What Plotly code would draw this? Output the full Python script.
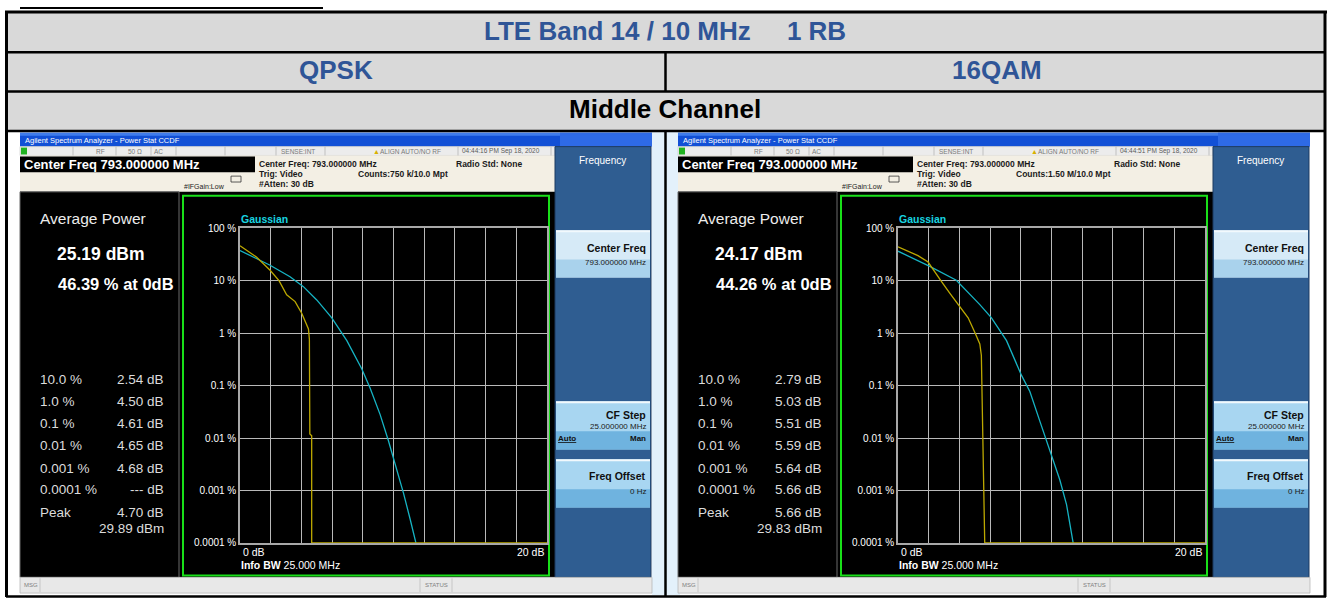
import plotly.graph_objects as go

W, H = 1330, 604
FONT = "Liberation Sans"

# ---------------- data ----------------
table_title = "LTE Band 14 / 10 MHz\u00a0\u00a0\u00a0\u00a0 1 RB"
modulations = ["QPSK", "16QAM"]
channel_label = "Middle Channel"

y_tick_vals = [100, 10, 1, 0.1, 0.01, 0.001, 0.0001]
y_tick_text = ["100 %", "10 %", "1 %", "0.1 %", "0.01 %", "0.001 %", "0.0001 %"]

# QPSK measured CCDF (dB above average, % probability)
qpsk_meas_db = [0, 1.09, 1.96, 2.54, 3.04, 3.59, 4.02, 4.46, 4.52, 4.55, 4.67, 4.67, 20]
qpsk_meas_pct = [46.39, 28, 15.8, 10, 5.4, 4.0, 2.4, 1.2, 0.77, 0.012, 0.011, 0.0001, 0.0001]
# QPSK Gaussian reference
qpsk_gauss_db = [0, 1.96, 3.26, 4.13, 5.0, 5.98, 6.96, 7.93, 8.48, 9.13, 9.67, 10.11, 10.65, 11.09, 11.46]
qpsk_gauss_pct = [37.6, 19.7, 11.9, 7.7, 4.3, 1.96, 0.72, 0.21, 0.089, 0.028, 0.0089, 0.0032, 0.00089, 0.00028, 0.0001]

# 16QAM measured CCDF
qam_meas_db = [0, 1.30, 1.96, 2.5, 2.79, 3.37, 3.91, 4.57, 5.03, 5.33, 5.43, 5.50, 5.52, 5.59, 5.62, 5.65, 20]
qam_meas_pct = [44.26, 30, 22.7, 12.8, 10, 5.8, 3.5, 1.96, 1.0, 0.62, 0.38, 0.032, 0.03, 0.0012, 0.0011, 0.0001, 0.0001]
# 16QAM Gaussian reference
qam_gauss_db = [0, 2.07, 3.8, 5.33, 6.09, 7.07, 8.04, 8.59, 9.24, 9.89, 10.54, 10.98, 11.41]
qam_gauss_pct = [36.5, 18.8, 10.2, 3.5, 1.96, 0.72, 0.158, 0.077, 0.021, 0.0058, 0.0016, 0.00054, 0.0001]

stat_labels = ["10.0 %", "1.0 %", "0.1 %", "0.01 %", "0.001 %", "0.0001 %", "Peak"]
qpsk_stat_values = ["2.54 dB", "4.50 dB", "4.61 dB", "4.65 dB", "4.68 dB", "--- dB", "4.70 dB"]
qam_stat_values = ["2.79 dB", "5.03 dB", "5.51 dB", "5.59 dB", "5.64 dB", "5.66 dB", "5.66 dB"]
qpsk_avg = ["25.19 dBm", "46.39 % at 0dB"]
qam_avg = ["24.17 dBm", "44.26 % at 0dB"]
qpsk_peak_dbm = "29.89 dBm"
qam_peak_dbm = "29.83 dBm"
qpsk_time = "04:44:16 PM Sep 18, 2020"
qam_time = "04:44:51 PM Sep 18, 2020"
qpsk_counts = "Counts:750 k/10.0 Mpt"
qam_counts = "Counts:1.50 M/10.0 Mpt"

# ---------------- helpers ----------------
shapes = []
annots = []


def X(px):
    return px / W


def Y(py):
    return 1 - py / H


def rect(x0, y0, x1, y1, fill, line=None, lw=0):
    shapes.append(dict(type="rect", xref="paper", yref="paper", x0=X(x0), x1=X(x1), y0=Y(y1), y1=Y(y0),
                       fillcolor=fill, line=dict(color=line or fill, width=lw), layer="below"))


def seg(x0, y0, x1, y1, color="black", w=1, layer="above"):
    shapes.append(dict(type="line", xref="paper", yref="paper", x0=X(x0), x1=X(x1), y0=Y(y0), y1=Y(y1),
                       line=dict(color=color, width=w), layer=layer))


def txt(x, y, s, size, color, bold=False, anchor="left", family=FONT):
    if bold:
        s = "<b>" + s + "</b>"
    annots.append(dict(x=X(x), y=Y(y), xref="paper", yref="paper", text=s, showarrow=False,
                       xanchor=anchor, yanchor="middle", font=dict(size=size, color=color, family=family)))


# ---------------- table ----------------
rect(7, 8, 1325, 128, "#d9d9d9")
rect(652, 129, 680, 600, "#e3f1fb")
seg(20, 3, 323, 3, "black", 2)
seg(5, 7, 1327, 7, "black", 3)
seg(6.5, 7, 6.5, 602, "black", 3)
seg(1325, 7, 1325, 602, "black", 3)
for yy in (48, 88, 128):
    seg(6, yy, 1326, yy, "black", 2.5)
seg(6, 601.5, 1326, 601.5, "black", 2.5)
seg(665.5, 48, 665.5, 88, "black", 2.5)
seg(665.5, 128, 665.5, 601, "black", 2.5)

txt(665, 26, table_title, 26, "#2f5597", bold=True, anchor="center")
txt(336, 66, modulations[0], 26, "#2f5597", bold=True, anchor="center")
txt(997, 66, modulations[1], 26, "#2f5597", bold=True, anchor="center")
txt(665, 106, channel_label, 26, "black", bold=True, anchor="center")


# ---------------- analyzer screens ----------------
def screen(dx, time_s, counts_s, avg, stat_vals, peak_dbm):
    def R(x0, y0, x1, y1, fill, line=None, lw=0):
        rect(x0 + dx, y0, x1 + dx, y1, fill, line, lw)

    def T(x, y, s, size, color, bold=False, anchor="left"):
        txt(x + dx, y, s, size, color, bold, anchor)

    def L(x0, y0, x1, y1, color, w=1):
        seg(x0 + dx, y0, x1 + dx, y1, color, w)

    # title bar
    R(20, 130, 652, 144, "#1250d6")
    R(20, 130, 652, 133, "#3f7cec")
    R(560, 130, 652, 144, "#2e6ae6")
    T(23, 137.5, "Agilent Spectrum Analyzer - Power Stat CCDF", 7.5, "white")
    # status row
    R(20, 144, 555, 153, "#ececec", "#b8b8b8", 0.5)
    R(21, 145, 27, 152, "#21b321")
    for sx in (73, 116, 151, 176, 225, 276, 325, 458, 551):
        L(sx, 144, sx, 153, "#b0b0b0", 0.7)
    T(94, 148.5, "RF", 6.5, "#7a7a7a")
    T(126, 148.5, "50 \u03a9", 6.5, "#7a7a7a")
    T(152, 148.5, "AC", 6.5, "#7a7a7a")
    T(279, 148.5, "SENSE:INT", 6.5, "#7a7a7a")
    T(371, 148.5, "\u25b2", 7, "#d8b000")
    T(378, 148.5, "ALIGN AUTO/NO RF", 6.5, "#7a7a7a")
    T(460, 148.5, time_s, 6.5, "#5a5a5a")
    # info area
    R(20, 153, 555, 190, "#f3efe4")
    R(20, 154, 255, 170, "black")
    T(22, 162, "Center Freq 793.000000 MHz", 13, "white", bold=True)
    T(257, 162, "Center Freq: 793.000000 MHz", 8.5, "#1a1a1a", bold=True)
    T(454, 162, "Radio Std: None", 8.5, "#1a1a1a", bold=True)
    T(257, 172, "Trig: Video", 8.5, "#1a1a1a", bold=True)
    T(356, 172, counts_s, 8.5, "#1a1a1a", bold=True)
    T(257, 182, "#Atten: 30 dB", 8.5, "#1a1a1a", bold=True)
    T(182, 185, "#IFGain:Low", 7, "#1a1a1a")
    R(231, 174, 241, 180, "#f3efe4", "#333333", 0.8)
    # main display
    R(20, 190, 555, 582, "black")
    R(20, 190, 179, 582, "black", "#6a6a6a", 1)
    R(183, 194, 549, 580, "black", "#19e019", 2)
    # softkeys
    R(555, 144, 651, 582, "#2f5d91", "#1c3a60", 1)
    T(602, 158, "Frequency", 10, "white", anchor="center")
    keys = [(229, 277, "#d6eaf7", "#a9d2ec"), (403, 452, "#a8d6f1", "#6fb3df"), (462, 511, "#a8d6f1", "#6fb3df")]
    for (k0, k1, c_top, c_bot) in keys:
        R(556, k0, 650, k1, c_top)
        R(556, k0 + (k1 - k0) * 0.62, 650, k1, c_bot)
        R(556, k0, 650, k0 + 2, "#f2f9fd")
    T(648, 247, "Center Freq", 10.5, "#101010", bold=True, anchor="right")
    T(648, 262, "793.000000 MHz", 8, "#202020", anchor="right")
    T(648, 417, "CF Step", 10.5, "#101010", bold=True, anchor="right")
    T(648, 429, "25.000000 MHz", 8, "#202020", anchor="right")
    T(556, 441, "<u>Auto</u>", 8, "#101010", bold=True)
    T(648, 441, "Man", 8, "#101010", bold=True, anchor="right")
    T(648, 479, "Freq Offset", 10.5, "#101010", bold=True, anchor="right")
    T(648, 495, "0 Hz", 8, "#202020", anchor="right")
    # bottom bar
    R(20, 582, 652, 598, "#e8e8e8", "#b0b0b0", 0.7)
    L(40, 583, 40, 597, "#b8b8b8", 0.7)
    L(420, 583, 420, 597, "#b8b8b8", 0.7)
    L(452, 583, 452, 597, "#b8b8b8", 0.7)
    T(22, 590, "MSG", 6, "#808080")
    T(423, 590, "STATUS", 6, "#808080")
    # left panel text
    T(38, 217, "Average Power", 15.5, "#ececec")
    T(55, 253, avg[0], 17.5, "white", bold=True)
    T(56, 284, avg[1], 16.5, "white", bold=True)
    rows_y = [381, 403, 426, 448, 471, 493, 516]
    for lab, val, yy in zip(stat_labels, stat_vals, rows_y):
        T(38, yy, lab, 13.5, "#dcdcdc")
        T(166, yy, val, 13.5, "#dcdcdc", anchor="right")
    T(166, 532, peak_dbm, 13.5, "#dcdcdc", anchor="right")
    # chart labels
    T(239, 218, "Gaussian", 10.5, "#19d4e0", bold=True)
    T(241, 556, "0 dB", 10.5, "white")
    T(546, 556, "20 dB", 10.5, "white", anchor="right")
    T(239, 569, "<b>Info BW</b> 25.000 MHz", 10.5, "white")


screen(0, qpsk_time, qpsk_counts, qpsk_avg, qpsk_stat_values, qpsk_peak_dbm)
screen(658, qam_time, qam_counts, qam_avg, qam_stat_values, qam_peak_dbm)

# ---------------- CCDF traces ----------------
YELLOW = "#bca800"
CYAN = "#16b4c4"
fig = go.Figure()
fig.add_trace(go.Scatter(x=qpsk_gauss_db, y=qpsk_gauss_pct, mode="lines", line=dict(color=CYAN, width=1.3),
                         xaxis="x", yaxis="y", cliponaxis=False, showlegend=False))
fig.add_trace(go.Scatter(x=qpsk_meas_db, y=qpsk_meas_pct, mode="lines", line=dict(color=YELLOW, width=1.3),
                         xaxis="x", yaxis="y", cliponaxis=False, showlegend=False))
fig.add_trace(go.Scatter(x=qam_gauss_db, y=qam_gauss_pct, mode="lines", line=dict(color=CYAN, width=1.3),
                         xaxis="x2", yaxis="y2", cliponaxis=False, showlegend=False))
fig.add_trace(go.Scatter(x=qam_meas_db, y=qam_meas_pct, mode="lines", line=dict(color=YELLOW, width=1.3),
                         xaxis="x2", yaxis="y2", cliponaxis=False, showlegend=False))

GRID = "#b9b9b9"


def xax(dom, anchor):
    return dict(domain=dom, range=[0, 20], dtick=2, showticklabels=False, showgrid=True, gridcolor=GRID,
                gridwidth=1, zeroline=False, showline=True, mirror=True, linecolor="#a8a8a8", linewidth=1.5,
                ticks="", anchor=anchor, layer="below traces", fixedrange=True)


def yax(dom, anchor):
    return dict(domain=dom, type="log", range=[-4, 2], tickvals=y_tick_vals, ticktext=y_tick_text,
                tickfont=dict(size=10, color="white", family=FONT), showgrid=True, gridcolor=GRID, gridwidth=1,
                zeroline=False, showline=True, mirror=True, linecolor="#a8a8a8", linewidth=1.5, ticks="",
                anchor=anchor, layer="below traces", fixedrange=True)


ydom = [Y(547), Y(227)]
fig.update_layout(
    width=W, height=H, autosize=False,
    margin=dict(l=0, r=0, t=0, b=0),
    paper_bgcolor="white", plot_bgcolor="rgba(0,0,0,0)",
    xaxis=xax([X(240), X(547)], "y"),
    yaxis=yax(ydom, "x"),
    xaxis2=xax([X(898), X(1205)], "y2"),
    yaxis2=yax(ydom, "x2"),
    shapes=shapes, annotations=annots,
    showlegend=False,
)

fig.write_html("out.html", config={"displayModeBar": False},
               post_script="document.body.style.margin='0px';document.body.style.overflow='hidden';")
